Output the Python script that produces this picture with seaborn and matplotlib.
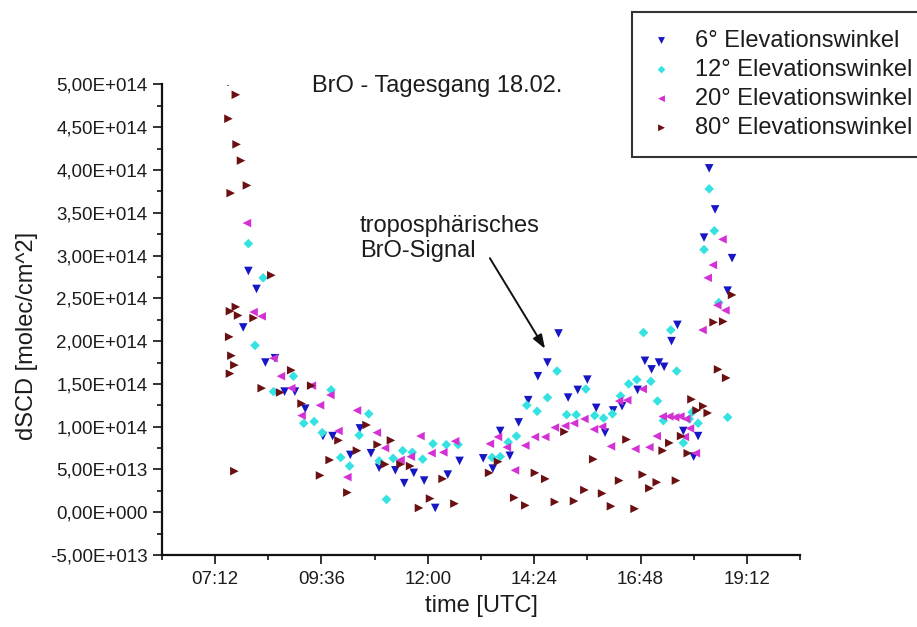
import numpy as np
import pandas as pd
import matplotlib
matplotlib.use("Agg")
import matplotlib.pyplot as plt
import seaborn as sns
from matplotlib.ticker import FuncFormatter, MultipleLocator

# BrO differential slant column densities, 18.02., per elevation angle.
# Times in UTC (HH:MM), dSCD values in units of 1e14 molec/cm^2.
times_6 = ["07:50", "07:57", "08:08", "08:20", "08:33", "08:46", "09:00", "09:14",
           "09:38", "09:51", "10:15", "10:28", "10:43", "10:54", "11:16", "11:28",
           "11:41", "11:55", "12:10", "12:27", "12:43", "13:15", "13:28", "13:38",
           "13:51", "14:03", "14:16", "14:29", "14:42", "14:57", "15:10", "15:23",
           "15:36", "15:48", "16:00", "16:11", "16:23", "16:44", "16:54", "17:03",
           "17:13", "17:20", "17:30", "17:38", "17:46", "18:00", "18:06", "18:14",
           "18:21", "18:29", "18:46", "18:52"]
dscd_6 = [2.16, 2.82, 2.61, 1.75, 1.80, 1.41, 1.41, 1.21,
          0.89, 0.89, 0.67, 0.98, 0.69, 0.52, 0.49, 0.34,
          0.46, 0.37, 0.05, 0.44, 0.60, 0.63, 0.51, 0.95,
          0.66, 1.05, 1.31, 1.59, 1.75, 2.09, 1.34, 1.43,
          1.55, 1.22, 0.93, 1.19, 1.24, 1.43, 1.77, 1.67,
          1.75, 1.70, 2.00, 2.19, 0.95, 0.65, 0.89, 3.21,
          4.02, 3.54, 2.59, 2.97]

times_12 = ["07:57", "08:06", "08:17", "08:31", "08:58", "09:12", "09:26", "09:37",
            "09:49", "10:02", "10:14", "10:27", "10:40", "10:54", "11:04", "11:13",
            "11:26", "11:39", "11:53", "12:07", "12:25", "12:41", "13:27", "13:38",
            "13:49", "14:00", "14:14", "14:28", "14:42", "14:55", "15:08", "15:21",
            "15:34", "15:46", "15:58", "16:10", "16:21", "16:32", "16:43", "16:52",
            "17:02", "17:11", "17:19", "17:29", "17:37", "17:46", "17:54", "17:58",
            "18:06", "18:14", "18:21", "18:28", "18:34", "18:46"]
dscd_12 = [3.14, 1.95, 2.74, 1.41, 1.59, 1.04, 1.06, 0.93,
           1.43, 0.64, 0.54, 0.90, 1.15, 0.60, 0.15, 0.63,
           0.72, 0.70, 0.62, 0.80, 0.79, 0.79, 0.64, 0.65,
           0.82, 0.89, 1.25, 1.18, 1.34, 1.65, 1.14, 1.14,
           1.44, 1.13, 1.10, 1.15, 1.36, 1.50, 1.55, 2.10,
           1.53, 1.30, 1.07, 2.13, 1.65, 0.81, 1.09, 1.17,
           1.04, 3.07, 3.78, 3.29, 2.45, 1.11]

times_20 = ["07:55", "08:04", "08:15", "08:31", "08:41", "08:55", "09:09", "09:23",
            "09:34", "09:48", "09:59", "10:11", "10:24", "10:51", "11:02", "11:23",
            "11:37", "11:50", "12:05", "12:21", "12:37", "13:24", "13:35", "13:47",
            "13:58", "14:12", "14:25", "14:39", "14:52", "15:06", "15:18", "15:32",
            "15:45", "15:56", "16:08", "16:19", "16:30", "16:41", "16:51", "17:00",
            "17:10", "17:18", "17:27", "17:35", "17:42", "17:48", "17:50", "17:55",
            "18:03", "18:12", "18:19", "18:26", "18:32", "18:39", "18:43"]
dscd_20 = [3.38, 2.34, 2.29, 1.80, 1.59, 1.45, 1.13, 1.48,
           1.25, 1.37, 0.95, 0.41, 1.19, 0.93, 0.75, 0.61,
           0.65, 0.89, 0.69, 0.70, 0.83, 0.80, 0.88, 0.76,
           0.49, 0.78, 0.88, 0.88, 0.99, 1.01, 1.04, 1.09,
           0.97, 1.00, 0.77, 1.30, 1.31, 0.74, 1.44, 0.76,
           0.89, 1.12, 1.12, 1.11, 1.12, 0.88, 1.09, 0.98,
           0.69, 2.13, 2.74, 2.89, 2.42, 3.19, 2.36]

times_80 = ["07:30", "07:31", "07:32", "07:32", "07:33", "07:34", "07:34", "07:38",
            "07:38", "07:40", "07:40", "07:41", "07:43", "07:47", "07:55", "08:04",
            "08:15", "08:28", "08:40", "08:55", "09:09", "09:22", "09:34", "09:47",
            "09:59", "10:11", "10:24", "10:37", "10:52", "11:02", "11:10", "11:23",
            "11:36", "11:48", "12:03", "12:20", "12:36", "13:23", "13:35", "13:57",
            "14:12", "14:25", "14:39", "14:52", "15:05", "15:18", "15:32", "15:44",
            "15:56", "16:08", "16:19", "16:29", "16:40", "16:51", "17:00", "17:10",
            "17:18", "17:27", "17:36", "17:43", "17:52", "17:57", "18:04", "18:13",
            "18:19", "18:27", "18:33", "18:40", "18:44", "18:52"]
dscd_80 = [4.60, 2.05, 2.35, 1.62, 3.73, 5.03, 1.83, 1.72,
           0.48, 4.88, 2.40, 4.30, 2.30, 4.11, 3.82, 2.27,
           1.45, 2.77, 1.40, 1.66, 1.27, 1.48, 0.43, 0.61,
           0.84, 0.23, 0.72, 1.02, 0.79, 0.56, 0.84, 0.56,
           0.54, 0.05, 0.16, 0.39, 0.10, 0.46, 0.59, 0.17,
           0.08, 0.46, 0.39, 0.12, 0.94, 0.13, 0.26, 0.62,
           0.22, 0.07, 0.37, 0.85, 0.04, 0.44, 0.28, 0.35,
           0.72, 0.81, 0.37, 0.89, 0.69, 1.32, 1.19, 1.24,
           1.16, 2.22, 1.67, 2.23, 1.57, 2.54]

series_labels = ["6° Elevationswinkel", "12° Elevationswinkel",
                 "20° Elevationswinkel", "80° Elevationswinkel"]
series_colors = ["#1616c4", "#35e2e2", "#d431d4", "#6a0f12"]
series_markers = ["v", "D", "<", ">"]
series_sizes = [38, 24, 38, 38]


def to_hours(stamps):
    return [int(t[:2]) + int(t[3:]) / 60.0 for t in stamps]


frames = []
for label, ts, vals in zip(series_labels,
                           [times_6, times_12, times_20, times_80],
                           [dscd_6, dscd_12, dscd_20, dscd_80]):
    frames.append(pd.DataFrame({"time_h": to_hours(ts),
                                "dscd": np.asarray(vals) * 1e14,
                                "series": label}))
df = pd.concat(frames, ignore_index=True)

sns.set_theme(style="ticks")
plt.rcParams["font.family"] = ["Liberation Sans", "DejaVu Sans"]
text_color = "#1c1c1c"

fig = plt.figure(figsize=(9.17, 6.27), dpi=100)
ax = fig.add_axes([162 / 917, 1 - 555 / 627, 638 / 917, 470.5 / 627])

for label, col, mk, sz in zip(series_labels, series_colors, series_markers, series_sizes):
    sns.scatterplot(data=df[df["series"] == label], x="time_h", y="dscd",
                    color=col, marker=mk, s=sz, linewidth=0, edgecolor="none",
                    label=label, ax=ax)

ax.set_xlim(6.0, 20.4)
ax.set_ylim(-0.5e14, 5.0e14)


def sci_comma(v, pos):
    if abs(v) < 1e-3:
        return "0,00E+000"
    exp = int(np.floor(np.log10(abs(v)) + 1e-9))
    mant = v / 10 ** exp
    return f"{mant:.2f}E{exp:+04d}".replace(".", ",")


def hhmm(x, pos):
    h = int(np.floor(x + 1e-6))
    m = int(round((x - h) * 60))
    if m == 60:
        h, m = h + 1, 0
    return f"{h:02d}:{m:02d}"


ax.xaxis.set_major_locator(MultipleLocator(2.4))
ax.xaxis.set_minor_locator(MultipleLocator(1.2))
ax.xaxis.set_major_formatter(FuncFormatter(hhmm))
ax.yaxis.set_major_locator(MultipleLocator(5e13))
ax.yaxis.set_minor_locator(MultipleLocator(2.5e13))
ax.yaxis.set_major_formatter(FuncFormatter(sci_comma))

sns.despine(ax=ax)
for side in ("left", "bottom"):
    ax.spines[side].set_linewidth(1.6)
    ax.spines[side].set_color("#111111")
ax.tick_params(which="major", direction="out", length=6.5, width=1.2,
               colors="#111111", labelcolor=text_color, labelsize=13.5)
ax.tick_params(which="minor", direction="out", length=3.6, width=1.2, colors="#111111")
ax.tick_params(axis="x", which="major", pad=5)
ax.tick_params(axis="y", which="major", pad=4)

ax.set_xlabel("time [UTC]", fontsize=17, color=text_color)
ax.set_ylabel("dSCD [molec/cm^2]", fontsize=17, color=text_color)
ax.xaxis.set_label_coords(0.5, -0.085)
ax.yaxis.set_label_coords(-0.194, 0.4665)

ax.text(0.432, 0.984, "BrO - Tagesgang 18.02.", transform=ax.transAxes,
        ha="center", va="baseline", fontsize=17, color=text_color)

ax.text(10.47, 3.20e14, "troposphärisches\nBrO-Signal", ha="left", va="center",
        fontsize=17, color=text_color, linespacing=1.12)
ax.annotate("", xy=(14.646, 1.91e14), xytext=(13.40, 2.97e14),
            arrowprops=dict(arrowstyle="-|>,head_length=0.7,head_width=0.25",
                            color="#111111", lw=1.4, shrinkA=0, shrinkB=0))

leg = ax.legend(loc="upper left", bbox_to_anchor=(632 / 917, 1 - 12 / 627),
                bbox_transform=fig.transFigure, fontsize=17, frameon=True,
                fancybox=False, framealpha=1, edgecolor="#333333",
                borderpad=0.75, handlelength=1.0, handletextpad=0.9,
                labelspacing=0.3, markerscale=0.8, borderaxespad=0)
leg.get_frame().set_linewidth(1.5)
for t in leg.get_texts():
    t.set_color(text_color)

fig.savefig("out.png", dpi=100)
